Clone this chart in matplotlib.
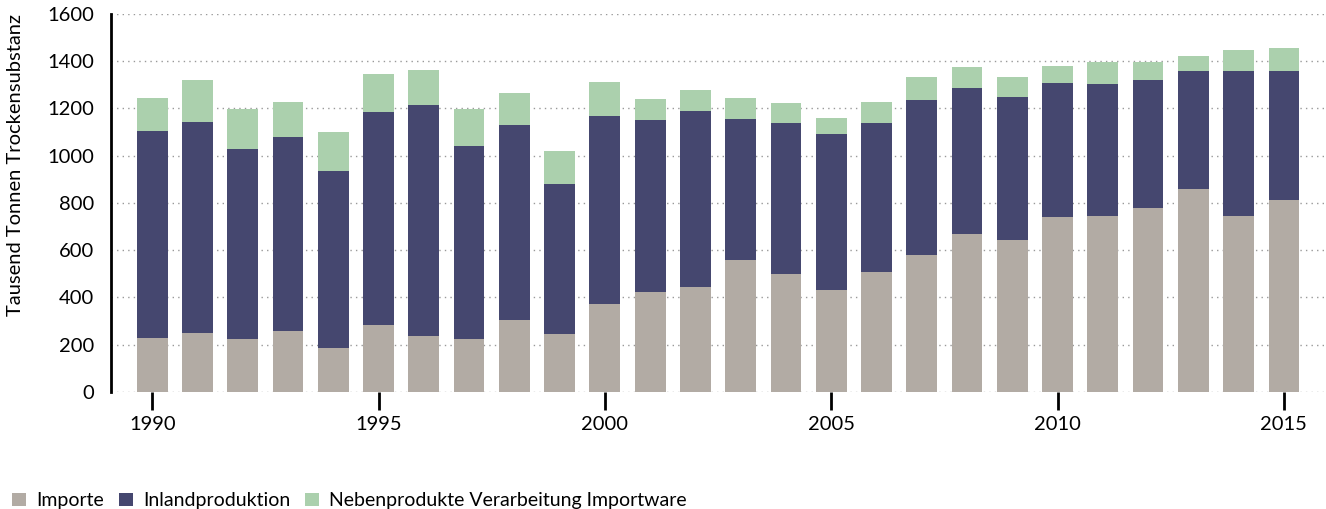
import numpy as np
import matplotlib.pyplot as plt

# values (Tausend Tonnen Trockensubstanz)
years = list(range(1990, 2016))
importe = [228, 250, 224, 258, 186, 283, 237, 224, 305, 245, 372, 423, 444,
           559, 499, 432, 508, 580, 669, 643, 740, 745, 779, 859, 745, 812]
inland = [876, 892, 804, 821, 749, 902, 977, 817, 825, 635, 796, 728, 745,
          596, 639, 660, 630, 656, 617, 605, 567, 558, 541, 499, 613, 546]
neben = [140, 178, 169, 148, 165, 161, 148, 156, 135, 140, 144, 89, 89,
         89, 85, 67, 89, 97, 89, 85, 72, 93, 76, 64, 89, 98]
labels = ['Importe', 'Inlandproduktion', 'Nebenprodukte Verarbeitung Importware']
colors = ['#b2aba4', '#45476f', '#abd0ad']

plt.rcParams['font.family'] = ['Lato', 'DejaVu Sans']

fig = plt.figure(figsize=(13.26, 5.09), dpi=100)
ax = fig.add_axes([0.0837, 0.2299, 0.9163, 0.7432])

x = np.array(years)
bottom = np.zeros(len(years))
for vals, lab, col in zip([importe, inland, neben], labels, colors):
    ax.bar(x, vals, width=0.68, bottom=bottom, color=col, label=lab, zorder=2)
    bottom += np.array(vals)

ax.set_xlim(1989.09, 2015.93)
ax.set_ylim(0, 1600)
ax.set_yticks(range(0, 1601, 200))
ax.set_xticks(range(1990, 2016, 5))
ax.tick_params(axis='y', length=0, labelsize=14.5, pad=12)
ax.tick_params(axis='x', length=13, width=2, labelsize=14.5, pad=4, color='black')
ax.grid(axis='y', linestyle=(0, (1, 3)), color='#999999', linewidth=1, zorder=0)

for s in ['top', 'right', 'bottom']:
    ax.spines[s].set_visible(False)
ax.spines['left'].set_linewidth(2)

fig.text(16 / 1326, 1 - 14 / 509, 'Tausend Tonnen Trockensubstanz', rotation=90,
         ha='center', va='top', fontsize=14.5)

fig.legend(loc='lower left', bbox_to_anchor=(-0.001, -0.027), ncol=3, frameon=False,
           handlelength=0.7, handleheight=0.7, handletextpad=0.55,
           columnspacing=0.75, fontsize=14, borderaxespad=0.3)

plt.savefig('out.png', dpi=100)
